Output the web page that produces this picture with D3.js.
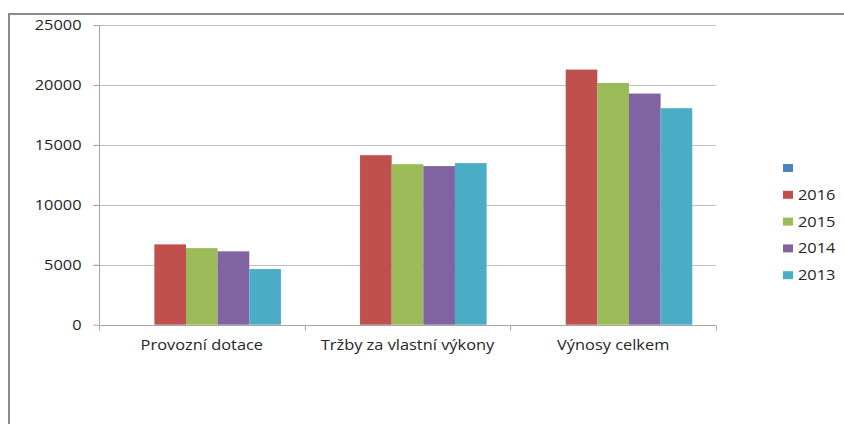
<!DOCTYPE html>
<html>
<head>
<meta charset="utf-8">
<script src="https://cdn.jsdelivr.net/npm/d3@7"></script>
<style>
  body { margin: 0; background: #fff; }
  text { font-family: "Open Sans", "Liberation Sans", sans-serif; fill: #262626; }
</style>
</head>
<body>
<div id="chart"></div>
<script>
var categories = ["Provozní dotace", "Tržby za vlastní výkony", "Výnosy celkem"];
var seriesNames = ["", "2016", "2015", "2014", "2013"];
var values0 = [null, null, null];          // empty series (no label)
var values2016 = [6700, 14140, 21280];
var values2015 = [6390, 13390, 20170];
var values2014 = [6120, 13230, 19280];
var values2013 = [4640, 13480, 18060];
var yTicks = [0, 5000, 10000, 15000, 20000, 25000];
var colors = ["#4F81BD", "#C0504D", "#9BBB59", "#8064A2", "#4BACC6"];

var seriesValues = [values0, values2016, values2015, values2014, values2013];

var width = 844, height = 424;
var plot = {left: 99, right: 716, top: 25, bottom: 324.7};
var stretch = 1.17; // the picture's text is a little wide

var svg = d3.select("#chart").append("svg")
    .attr("width", width)
    .attr("height", height);

// outer frame
svg.append("line").attr("x1", 8).attr("x2", width).attr("y1", 14).attr("y2", 14)
    .attr("stroke", "#8a8a8a").attr("stroke-width", 2);
svg.append("line").attr("x1", 9).attr("x2", 9).attr("y1", 13).attr("y2", height)
    .attr("stroke", "#8a8a8a").attr("stroke-width", 2);

var xScale = d3.scaleBand().domain(categories).range([plot.left, plot.right]);
var xInner = d3.scaleBand().domain(d3.range(seriesNames.length))
    .range([0, xScale.bandwidth()]).paddingInner(0).paddingOuter(0.75);
var yScale = d3.scaleLinear().domain([0, 25000]).range([plot.bottom, plot.top]);

function widen(sel) {
  sel.each(function () {
    var w = this.getComputedTextLength();
    d3.select(this).attr("textLength", w * stretch).attr("lengthAdjust", "spacingAndGlyphs");
  });
}

// gridlines
svg.append("g").selectAll("line")
    .data(yTicks.slice(1))
  .enter().append("line")
    .attr("x1", plot.left - 6).attr("x2", plot.right)
    .attr("y1", function(d) { return Math.round(yScale(d)) + 0.5; })
    .attr("y2", function(d) { return Math.round(yScale(d)) + 0.5; })
    .attr("stroke", "#bfbfbf");

// y axis
var yAxis = d3.axisLeft(yScale).tickValues(yTicks).tickSize(6).tickPadding(12).tickFormat(d3.format("d"));
var yg = svg.append("g").attr("transform", "translate(" + (plot.left + 0.5) + ",0)").call(yAxis);
yg.select(".domain").attr("stroke", "#a6a6a6").attr("d", "M0," + plot.top + "V" + plot.bottom);
yg.selectAll(".tick line").attr("stroke", "#a6a6a6");
yg.selectAll(".tick text").attr("font-size", 14).attr("fill", "#262626")
    .attr("font-family", "Open Sans").call(widen);

// bars
seriesValues.forEach(function(vals, si) {
  svg.append("g").selectAll("rect")
      .data(vals.map(function(v, ci) { return {v: v, c: categories[ci]}; })
                .filter(function(d) { return d.v != null; }))
    .enter().append("rect")
      .attr("x", function(d) { return xScale(d.c) + xInner(si); })
      .attr("width", xInner.bandwidth())
      .attr("y", function(d) { return yScale(d.v); })
      .attr("height", function(d) { return plot.bottom - yScale(d.v); })
      .attr("fill", colors[si]);
});

// x axis
var xg = svg.append("g").attr("transform", "translate(0," + (Math.round(plot.bottom) + 0.5) + ")");
xg.append("line").attr("x1", plot.left).attr("x2", plot.right).attr("stroke", "#a6a6a6");
var edges = categories.map(function(c) { return xScale(c); }).concat([plot.right]);
xg.selectAll(".xt").data(edges).enter().append("line")
    .attr("x1", function(d) { return Math.round(d) + 0.5; })
    .attr("x2", function(d) { return Math.round(d) + 0.5; })
    .attr("y1", 0).attr("y2", 5).attr("stroke", "#a6a6a6");
xg.selectAll(".xl").data(categories).enter().append("text")
    .attr("x", function(d) { return xScale(d) + xScale.bandwidth() / 2; })
    .attr("y", 24)
    .attr("text-anchor", "middle")
    .attr("font-size", 14)
    .text(function(d) { return d; })
    .call(widen);

// legend
var legend = svg.append("g").selectAll("g")
    .data(seriesNames)
  .enter().append("g")
    .attr("transform", function(d, i) { return "translate(783," + (164 + i * 26.8) + ")"; });
legend.append("rect").attr("width", 10).attr("height", 8)
    .attr("fill", function(d, i) { return colors[i]; });
legend.append("text").attr("x", 15).attr("y", 9).attr("font-size", 14)
    .text(function(d) { return d; })
    .call(widen);
</script>
</body>
</html>
